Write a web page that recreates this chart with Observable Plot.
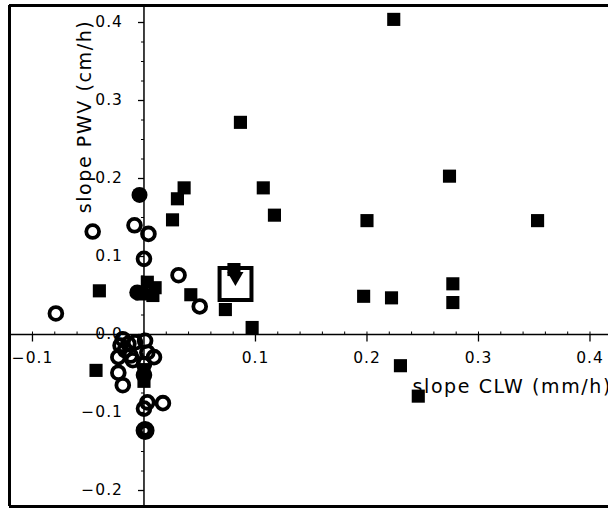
<!DOCTYPE html>
<html>
<head>
<meta charset="utf-8">
<script src="https://cdn.jsdelivr.net/npm/d3@7"></script>
<script src="https://cdn.jsdelivr.net/npm/@observablehq/plot@0.6"></script>
<style>
  html, body { margin: 0; padding: 0; background: #fff; }
  #chart svg { display: block; }
</style>
</head>
<body>
<div id="chart"></div>
<script>
// ---- data ----
// filled squares
const squareX = [0.224, 0.0865, 0.107, 0.036, 0.030, 0.0256, 0.117, 0.274, 0.200, 0.353,
                 0.277, 0.277, 0.197, 0.222, -0.040, 0.042, 0.073, 0.097, 0.230, 0.246,
                 -0.043, 0.003, 0.010, 0.008, -0.002, 0.000, 0.000];
const squareY = [0.404, 0.272, 0.188, 0.188, 0.174, 0.147, 0.153, 0.203, 0.146, 0.146,
                 0.065, 0.041, 0.049, 0.047, 0.056, 0.051, 0.032, 0.009, -0.040, -0.079,
                 -0.046, 0.067, 0.060, 0.050, 0.052, -0.045, -0.060];
// open circles
const circleX = [-0.079, -0.046, -0.0085, 0.004, 0.000, 0.031, 0.050,
                 -0.021, -0.014, -0.012, -0.023, -0.017, -0.019, -0.008, -0.010,
                 0.001, 0.003, 0.000, 0.000, 0.009,
                 -0.023, -0.019, 0.003, 0.017, 0.000];
const circleY = [0.027, 0.132, 0.140, 0.129, 0.097, 0.076, 0.036,
                 -0.014, -0.012, -0.027, -0.029, -0.020, -0.006, -0.010, -0.033,
                 -0.008, -0.023, -0.038, -0.052, -0.029,
                 -0.049, -0.065, -0.087, -0.088, -0.095];
// filled circles
const filledCircleX = [-0.004, -0.006];
const filledCircleY = [0.179, 0.054];
// thick ring
const ringX = [0.001];
const ringY = [-0.123];
// highlighted (big open square) point with its inner markers
const bigSquareX = [0.0821];
const bigSquareY = [0.0647];
const innerSquareX = [0.0807];
const innerSquareY = [0.0833];
const innerTriX = [0.082];
const innerTriY = [0.074];

// axes
const xTickValues = [-0.1, 0.1, 0.2, 0.3, 0.4];
const xTickLabels = ["\u22120.1", "0.1", "0.2", "0.3", "0.4"];
const yTickValues = [0.4, 0.3, 0.2, 0.1, 0.0, -0.1, -0.2];
const yTickLabels = ["0.4", "0.3", "0.2", "0.1", "0.0", "\u22120.1", "\u22120.2"];
const xMinorTicks = d3.range(-0.1, 0.42, 0.02).map(v => +v.toFixed(2));
const yMinorTicks = d3.range(-0.2, 0.42, 0.025).map(v => +v.toFixed(3));
const xDomain = [-0.1206, 0.4166];
const yDomain = [-0.2205, 0.4218];
const xLabel = "slope CLW (mm/h)";
const yLabel = "slope PWV (cm/h)";

// tick symbols (pixel lengths)
const tickDown = {draw(c) { c.moveTo(0, 0); c.lineTo(0, 7); }};
const tickUp = {draw(c) { c.moveTo(0, 0); c.lineTo(0, -3); }};
const tickLeft = {draw(c) { c.moveTo(0, 0); c.lineTo(-6, 0); }};
const tickLeftMinor = {draw(c) { c.moveTo(0, 0); c.lineTo(-3, 0); }};

const pts = (xs, ys) => xs.map((x, i) => ({x, y: ys[i]}));

const chart = Plot.plot({
  width: 608,
  height: 508,
  marginLeft: 9,
  marginRight: 0,
  marginTop: 5,
  marginBottom: 2,
  x: {domain: xDomain, axis: null},
  y: {domain: yDomain, axis: null},
  style: {fontFamily: "DejaVu Sans", color: "black", background: "white"},
  marks: [
    // frame (left, top, bottom)
    Plot.ruleX([xDomain[0]], {stroke: "black", strokeWidth: 3}),
    Plot.ruleY([yDomain[1]], {stroke: "black", strokeWidth: 3}),
    Plot.ruleY([yDomain[0]], {stroke: "black", strokeWidth: 3}),
    // zero axes
    Plot.ruleX([0], {stroke: "black", strokeWidth: 1.5}),
    Plot.ruleY([0], {stroke: "black", strokeWidth: 1.5}),
    // ticks
    Plot.dot(xMinorTicks, {x: d => d, y: 0, symbol: tickUp, stroke: "black", fill: "none", strokeWidth: 1}),
    Plot.dot(xTickValues, {x: d => d, y: 0, symbol: tickDown, stroke: "black", fill: "none", strokeWidth: 1.3}),
    Plot.dot(yMinorTicks, {x: 0, y: d => d, symbol: tickLeftMinor, stroke: "black", fill: "none", strokeWidth: 1}),
    Plot.dot(yTickValues, {x: 0, y: d => d, symbol: tickLeft, stroke: "black", fill: "none", strokeWidth: 1.3}),
    // tick labels
    Plot.text(xTickValues, {x: d => d, y: 0, dy: 24, text: (d, i) => xTickLabels[i],
      fontSize: 15.5, fill: "black"}),
    Plot.text(yTickValues, {x: 0, y: d => d, dx: -21, text: (d, i) => yTickLabels[i], textAnchor: "end",
      fontSize: 15.5, fill: "black"}),
    // axis titles
    Plot.text([xLabel], {frameAnchor: "top-left", dx: 403, dy: 374, textAnchor: "start",
      fontSize: 19, fill: "black"}),
    Plot.text([yLabel], {frameAnchor: "top-left", dx: 68, dy: 111, rotate: -90, textAnchor: "middle",
      fontSize: 19, fill: "black"}),
    // data
    Plot.dot(pts(circleX, circleY), {x: "x", y: "y", r: 6.4, stroke: "black", strokeWidth: 3.8, fill: "none"}),
    Plot.dot(pts(ringX, ringY), {x: "x", y: "y", r: 6, stroke: "black", strokeWidth: 7, fill: "none"}),
    Plot.dot(pts(filledCircleX, filledCircleY), {x: "x", y: "y", r: 8, fill: "black", stroke: "none"}),
    Plot.dot(pts(squareX, squareY), {x: "x", y: "y", symbol: "square", r: 7.4, fill: "black", stroke: "none"}),
    Plot.dot(pts(bigSquareX, bigSquareY), {x: "x", y: "y", symbol: "square", r: 18, fill: "none", stroke: "black", strokeWidth: 4}),
    Plot.dot(pts(innerSquareX, innerSquareY), {x: "x", y: "y", symbol: "square", r: 7.4, fill: "black", stroke: "none"}),
    Plot.dot(pts(innerTriX, innerTriY), {x: "x", y: "y", symbol: "triangle", r: 6, rotate: 180, fill: "black", stroke: "none"})
  ]
});
// letter spacing for text like the reference
d3.select(chart).selectAll("text").style("letter-spacing", "1px");
d3.select(chart).selectAll("text").filter(function() {
  const t = this.textContent; return t === xLabel || t === yLabel;
}).style("letter-spacing", "1.6px");
document.getElementById("chart").appendChild(chart);
</script>
</body>
</html>
